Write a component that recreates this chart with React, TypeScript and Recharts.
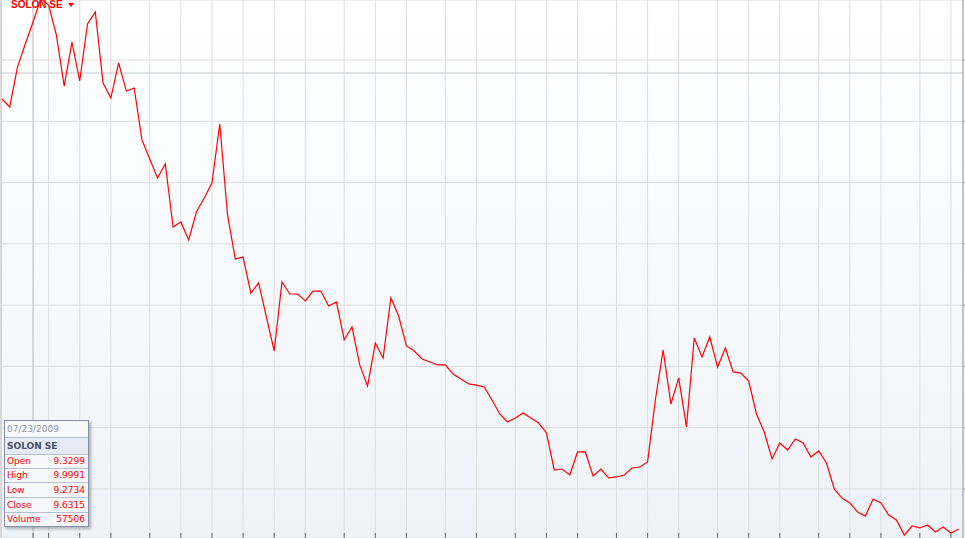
import React from 'react';
import { LineChart, Line, XAxis, YAxis, CartesianGrid, ReferenceLine } from 'recharts';

// Daily closing prices (EUR)
const closes: number[] = [
  9.682, 9.617, 9.943, 10.131, 10.31, 10.5, 10.449, 10.204, 9.788, 10.147,
  9.829, 10.294, 10.392, 9.813, 9.69, 9.976, 9.747, 9.772, 9.348, 9.193,
  9.038, 9.152, 8.638, 8.679, 8.532, 8.76, 8.874, 8.997, 9.478, 8.736,
  8.377, 8.393, 8.099, 8.181, 7.903, 7.626, 8.189, 8.091, 8.091, 8.034,
  8.115, 8.115, 7.993, 8.026, 7.716, 7.822, 7.512, 7.34, 7.691, 7.569,
  8.058, 7.911, 7.667, 7.626, 7.561, 7.536, 7.512, 7.512, 7.438, 7.397,
  7.357, 7.348, 7.332, 7.226, 7.112, 7.047, 7.079, 7.12, 7.079, 7.038,
  6.957, 6.655, 6.663, 6.614, 6.802, 6.802, 6.606, 6.663, 6.59, 6.598,
  6.614, 6.671, 6.679, 6.72, 7.226, 7.634, 7.193, 7.406, 7.006, 7.732,
  7.577, 7.74, 7.495, 7.65, 7.455, 7.446, 7.381, 7.112, 6.965, 6.745,
  6.875, 6.818, 6.908, 6.875, 6.761, 6.81, 6.712, 6.5, 6.426, 6.386,
  6.312, 6.279, 6.418, 6.386, 6.288, 6.247, 6.124, 6.198, 6.182, 6.206,
  6.149, 6.19, 6.141, 6.173,
];

// Trading-day indices where weekly grid lines fall
const gridDays: number[] = [4, 6, 10, 14, 19, 23, 27, 31, 35, 39, 44, 48, 52, 57, 61, 66, 70, 74, 79, 83, 87, 92, 96, 100, 105, 109, 113, 118, 122];
const priceTicks: number[] = [6.5, 7, 7.5, 8, 8.5, 9, 9.5, 10];

const seriesName = 'SOLON SE';
const tooltipDate = '07/23/2009';
const tooltipLabels: string[] = ['Open', 'High', 'Low', 'Close', 'Volume'];
const tooltipValues: string[] = ['9.3299', '9.9991', '9.2734', '9.6315', '57506'];
const crosshairDay = 4;
const crosshairPrice = 9.894;

const data = closes.map((c, i) => ({ day: i, close: c }));

const rowHeights = [13, 13, 14, 14, 13];

const NoLabel = () => <g />;

export default function App() {
  return (
    <div
      style={{
        position: 'absolute',
        left: 0,
        top: 0,
        width: 965,
        height: 538,
        overflow: 'hidden',
        background: 'linear-gradient(to bottom, #ffffff 0%, #fafbfd 35%, #f3f6f9 75%, #eef3f8 100%)',
      }}
    >
      <div style={{ position: 'absolute', left: 0, top: 0, width: 2, height: 538, background: '#d4d4d4' }} />
      <LineChart width={965} height={538} data={data} margin={{ top: 0, right: 0, bottom: 0, left: 0 }}>
        <CartesianGrid stroke="#dedede" strokeWidth={1} />
        <XAxis
          type="number"
          dataKey="day"
          domain={[-0.25, 123.55]}
          ticks={gridDays}
          interval={0}
          allowDataOverflow
          mirror
          axisLine={false}
          tick={<NoLabel />}
          tickLine={{ stroke: '#666666' }}
          tickSize={5}
        />
        <YAxis
          orientation="right"
          width={2}
          domain={[6.1, 10.49]}
          ticks={priceTicks}
          interval={0}
          allowDataOverflow
          tick={<NoLabel />}
          axisLine={{ stroke: '#9c9c9c' }}
          tickLine={{ stroke: '#9c9c9c' }}
          tickSize={2}
        />
        <ReferenceLine x={crosshairDay} stroke="#c4c6cc" />
        <ReferenceLine y={crosshairPrice} stroke="#c6cad2" />
        <Line
          type="linear"
          dataKey="close"
          stroke="#ff0000"
          strokeWidth={1.2}
          dot={false}
          activeDot={false}
          isAnimationActive={false}
        />
      </LineChart>

      <div
        style={{
          position: 'absolute',
          left: 11,
          top: 0,
          fontFamily: '"Liberation Sans", Arial, sans-serif',
          fontWeight: 'bold',
          fontSize: 10,
          lineHeight: '10px',
          color: '#ff0000',
          whiteSpace: 'nowrap',
        }}
      >
        {seriesName}
      </div>
      <div
        style={{
          position: 'absolute',
          left: 68,
          top: 3,
          width: 0,
          height: 0,
          borderLeft: '3px solid transparent',
          borderRight: '3px solid transparent',
          borderTop: '4px solid #ff0000',
        }}
      />

      <div
        style={{
          position: 'absolute',
          left: 4,
          top: 420,
          width: 83,
          border: '1px solid #8590a6',
          background: '#f7f8fa',
          boxShadow: '2px 2px 3px rgba(0,0,0,0.28)',
          fontFamily: '"DejaVu Sans", Verdana, sans-serif',
          fontSize: 9,
        }}
      >
        <div style={{ height: 16, lineHeight: '16px', paddingLeft: 2, color: '#8d95a6', borderBottom: '1px solid #b9c0ce' }}>
          {tooltipDate}
        </div>
        <div
          style={{
            height: 16,
            lineHeight: '16px',
            paddingLeft: 2,
            color: '#4a5162',
            fontWeight: 'bold',
            background: '#e4ebf4',
            borderBottom: '1px solid #b9c0ce',
          }}
        >
          {seriesName}
        </div>
        {tooltipLabels.map((lab, i) => (
          <div
            key={lab}
            style={{
              height: rowHeights[i],
              lineHeight: rowHeights[i] + 'px',
              display: 'flex',
              justifyContent: 'space-between',
              padding: '0 3px 0 2px',
              color: '#ff0000',
              borderTop: i > 0 ? '1px solid #b9c0ce' : 'none',
            }}
          >
            <span>{lab}</span>
            <span>{tooltipValues[i]}</span>
          </div>
        ))}
      </div>
    </div>
  );
}
